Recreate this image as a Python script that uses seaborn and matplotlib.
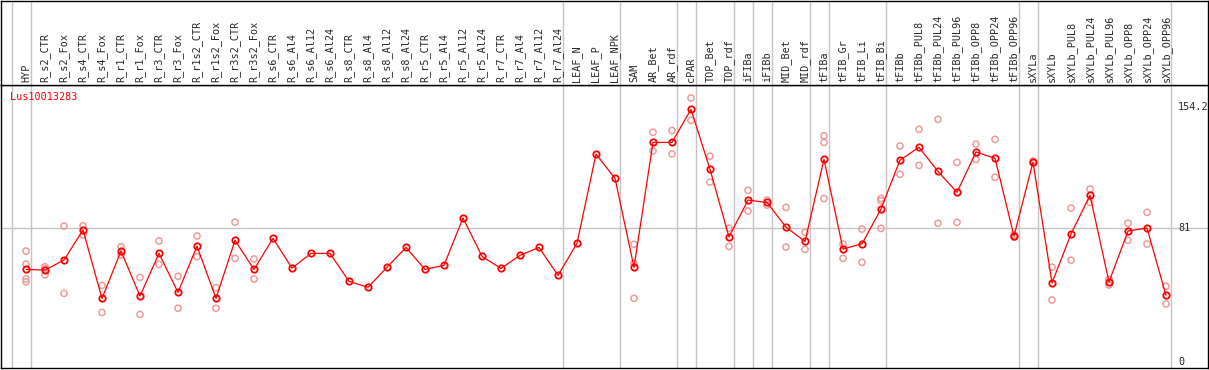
import numpy as np
import pandas as pd
import seaborn as sns
import matplotlib
matplotlib.use("Agg")
import matplotlib.pyplot as plt
import matplotlib.transforms as mtransforms

# ---- data ----
gene = "Lus10013283"

samples = ["HYP", "R_s2_CTR", "R_s2_Fox", "R_s4_CTR", "R_s4_Fox", "R_r1_CTR", "R_r1_Fox",
           "R_r3_CTR", "R_r3_Fox", "R_r1s2_CTR", "R_r1s2_Fox", "R_r3s2_CTR", "R_r3s2_Fox",
           "R_s6_CTR", "R_s6_Al4", "R_s6_Al12", "R_s6_Al24", "R_s8_CTR", "R_s8_Al4",
           "R_s8_Al12", "R_s8_Al24", "R_r5_CTR", "R_r5_Al4", "R_r5_Al12", "R_r5_Al24",
           "R_r7_CTR", "R_r7_Al4", "R_r7_Al12", "R_r7_Al24", "LEAF_N", "LEAF_P", "LEAF_NPK",
           "SAM", "AR_Bet", "AR_rdf", "cPAR", "TOP_Bet", "TOP_rdf", "iFIBa", "iFIBb",
           "MID_Bet", "MID_rdf", "tFIBa", "tFIB_Gr", "tFIB_Li", "tFIB_Bi", "tFIBb",
           "tFIBb_PUL8", "tFIBb_PUL24", "tFIBb_PUL96", "tFIBb_OPP8", "tFIBb_OPP24",
           "tFIBb_OPP96", "sXYLa", "sXYLb", "sXYLb_PUL8", "sXYLb_PUL24", "sXYLb_PUL96",
           "sXYLb_OPP8", "sXYLb_OPP24", "sXYLb_OPP96"]

means = [56.0, 55.6, 61.7, 79.8, 38.5, 67.1, 39.9, 65.7, 42.1, 70.1, 38.5, 73.6, 56.0,
         74.8, 56.8, 65.7, 65.7, 48.8, 45.2, 57.3, 69.3, 56.0, 58.5, 87.1, 63.9, 56.6,
         64.5, 69.3, 52.4, 71.8, 125.7, 111.1, 57.3, 132.8, 132.8, 152.8, 116.5, 75.6,
         97.9, 96.5, 81.6, 72.9, 122.5, 68.3, 71.5, 92.5, 122.1, 129.8, 115.3, 102.6,
         127.0, 123.2, 76.2, 120.9, 47.8, 77.4, 100.8, 48.4, 79.2, 81.0, 40.3]

replicates = [[67.1, 59.2, 50.2, 48.5], [57.6, 52.8, 56.4], [82.2, 41.5], [82.4, 76.8],
              [46.4, 30.0], [69.7, 64.7], [51.2, 28.8], [73.2, 59.1], [51.8, 32.5],
              [76.2, 63.7], [44.9, 32.5], [84.6, 62.7], [62.3, 50.2],
              [], [], [], [], [], [], [], [], [], [], [], [], [], [], [], [], [], [], [],
              [71.2, 59.7, 38.5], [138.9, 127.6], [140.0, 125.8], [159.6, 146.1],
              [124.4, 108.8], [81.0, 69.9], [103.8, 91.3], [97.9, 94.9], [93.5, 69.5],
              [78.4, 68.1], [136.8, 132.8, 98.9], [71.3, 62.7], [80.4, 60.3],
              [98.9, 97.5, 80.8], [130.6, 113.5], [140.7, 118.9], [146.7, 83.9],
              [120.7, 84.5], [131.8, 122.5], [134.6, 111.7], [77.0, 75.5], [121.5, 120.3],
              [57.3, 37.5], [93.1, 61.5], [104.6, 96.5], [50.0, 46.6], [83.9, 73.6],
              [90.5, 71.3], [45.8, 35.1]]

# sample groups (sizes), separated by grey lines
group_sizes = [1, 28, 3, 3, 1, 2, 1, 1, 2, 1, 3, 7, 1, 7]

y_labels = [154.2, 81, 0]
ref_line = 81

# ---- build frames ----
mean_df = pd.DataFrame({"pos": np.arange(len(samples)), "value": means})
rep_df = pd.DataFrame([(i, v) for i, vals in enumerate(replicates) for v in vals],
                      columns=["pos", "value"])

sns.set_style("white")
plt.rcParams["font.family"] = ["DejaVu Sans Mono", "DejaVu Sans"]

W, H = 1209, 370
fig = plt.figure(figsize=(W / 100, H / 100), dpi=100)
ax = fig.add_axes([1 / W, 2 / H, 1207 / W, 283 / H])
hax = fig.add_axes([1 / W, 285 / H, 1207 / W, 84 / H])

x_first, x_step = 26, 19
xlim = ((1 - x_first) / x_step, (1208 - x_first) / x_step)
for a in (ax, hax):
    a.set_xlim(*xlim)
    a.set_xticks([])
    a.set_yticks([])
    for s in a.spines.values():
        s.set_color("black")
        s.set_linewidth(1.0)
ax.set_ylim(-3.6, 167.5)
hax.set_ylim(0, 1)

grey = "#c4c4c4"
bounds = np.cumsum([0] + group_sizes) - 1
for b in bounds:
    for a in (ax, hax):
        a.axvline(b + 0.27, color=grey, lw=1.0, zorder=0)
ax.axhline(ref_line, color=grey, lw=1.0, zorder=0)

sns.scatterplot(data=rep_df, x="pos", y="value", ax=ax, color="#f09a9a",
                facecolor="none", edgecolor="#f09a9a", s=20, linewidth=1.1, zorder=2)
sns.lineplot(data=mean_df, x="pos", y="value", ax=ax, color="red", lw=0.9,
             marker="o", ms=4.6, mfc="none", mec="red", mew=1.3, zorder=3)
ax.set_xlabel("")
ax.set_ylabel("")

fs = 7.3
for i, name in enumerate(samples):
    hax.text(i, 0.03, name, rotation=90, ha="center", va="bottom", fontsize=fs)

tr = mtransforms.blended_transform_factory(ax.transAxes, ax.transData)
for v in y_labels:
    ax.text((1178 - 1) / 1207, v, f"{v:g}", transform=tr, ha="left", va="center",
            fontsize=fs, clip_on=False)

ax.text(9 / 1207, (368 - 97) / 283, gene, transform=ax.transAxes, color="red",
        ha="left", va="center", fontsize=fs)

fig.savefig("out.png", dpi=100)
